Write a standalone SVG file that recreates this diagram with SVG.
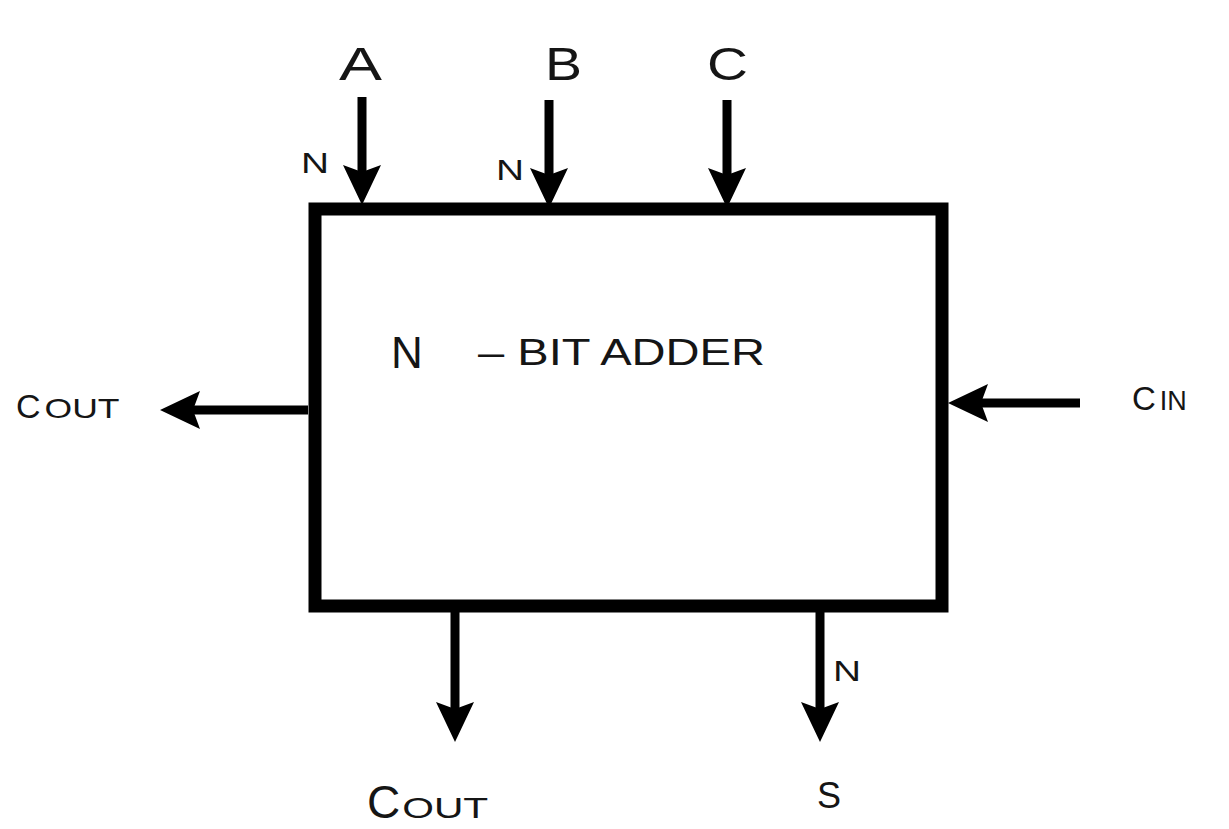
<svg xmlns="http://www.w3.org/2000/svg" width="1229" height="829" viewBox="0 0 1229 829">
<style>
.t{font-family:"Liberation Sans",Arial,sans-serif;fill:#151515}
.w{stroke:#000;stroke-width:9;fill:none}
.box{fill:#fff;stroke:#000;stroke-width:13}
</style>
<defs>
<marker id="ah" markerUnits="userSpaceOnUse" markerWidth="44" markerHeight="40" refX="25" refY="19" orient="auto" overflow="visible">
<path d="M0,0 L40,19 L0,38 L7,19 Z" fill="#000"/>
</marker>
</defs>
<rect width="1229" height="829" fill="#fff"/>
<g id="adder">
<rect class="box" x="315" y="209" width="627" height="397"/>
<text class="t" x="391" y="368" font-size="44">N</text>
<text class="t" x="478" y="365" font-size="36" textLength="287" lengthAdjust="spacingAndGlyphs">– BIT ADDER</text>
</g>
<g id="connectors">
<line class="w" x1="362" y1="97" x2="362" y2="190" marker-end="url(#ah)"/>
<line class="w" x1="549" y1="100" x2="549" y2="193" marker-end="url(#ah)"/>
<line class="w" x1="727" y1="100" x2="727" y2="193" marker-end="url(#ah)"/>
<line class="w" x1="308" y1="410" x2="175" y2="410" marker-end="url(#ah)"/>
<line class="w" x1="1080" y1="403" x2="963" y2="403" marker-end="url(#ah)"/>
<line class="w" x1="455" y1="612" x2="455" y2="727" marker-end="url(#ah)"/>
<line class="w" x1="820" y1="612" x2="820" y2="727" marker-end="url(#ah)"/>
</g>
<g id="label-A"><text class="t" x="339" y="80" font-size="46" textLength="43" lengthAdjust="spacingAndGlyphs">A</text></g>
<g id="label-B"><text class="t" x="545" y="80" font-size="46" textLength="37" lengthAdjust="spacingAndGlyphs">B</text></g>
<g id="label-C"><text class="t" x="707" y="80" font-size="46" textLength="41" lengthAdjust="spacingAndGlyphs">C</text></g>
<g id="label-NA"><text class="t" x="301" y="173" font-size="30" textLength="28" lengthAdjust="spacingAndGlyphs">N</text></g>
<g id="label-NB"><text class="t" x="496" y="180" font-size="30" textLength="28" lengthAdjust="spacingAndGlyphs">N</text></g>
<g id="label-NS"><text class="t" x="833" y="681" font-size="30" textLength="28" lengthAdjust="spacingAndGlyphs">N</text></g>
<g id="label-cout-left"><text class="t" x="16" y="418" font-size="34">C<tspan font-size="28" dx="4" textLength="75" lengthAdjust="spacingAndGlyphs">OUT</tspan></text></g>
<g id="label-cin"><text class="t" x="1132" y="410" font-size="33">C<tspan font-size="27" dx="4">IN</tspan></text></g>
<g id="label-cout-bottom"><text class="t" x="367" y="818" font-size="46">C<tspan font-size="29" dx="2" textLength="86" lengthAdjust="spacingAndGlyphs">OUT</tspan></text></g>
<g id="label-S"><text class="t" x="817" y="808" font-size="36">S</text></g>
</svg>
